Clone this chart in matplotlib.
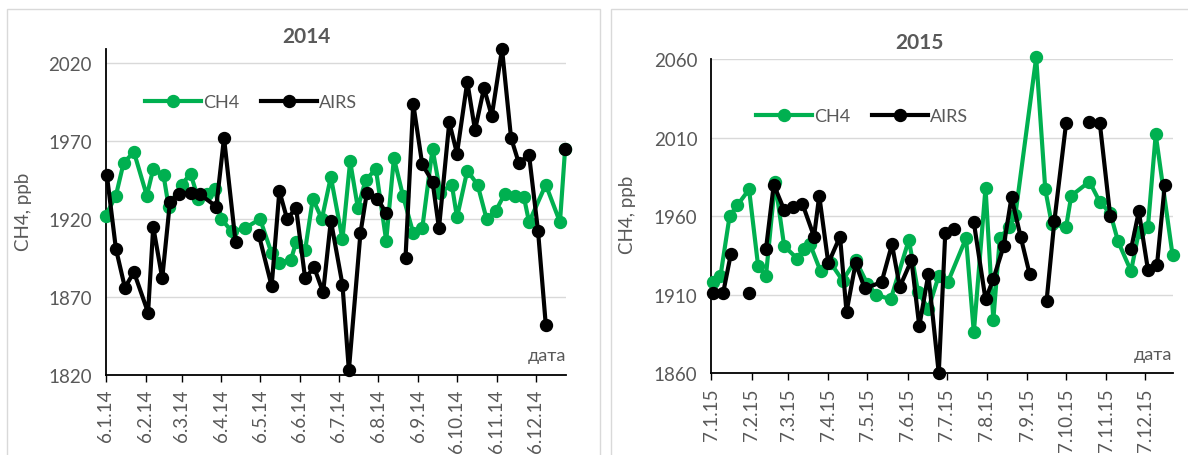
import numpy as np
import matplotlib
matplotlib.use("Agg")
import matplotlib.pyplot as plt
from matplotlib.patches import Rectangle

plt.rcParams['font.family'] = ['Lato', 'DejaVu Sans']

# --- 2014 ---
ch4_2014_dates = ['2014-01-06', '2014-01-14', '2014-01-20', '2014-01-28', '2014-02-07', '2014-02-12',
                  '2014-02-20', '2014-02-24', '2014-03-06', '2014-03-13', '2014-03-19', '2014-03-26',
                  '2014-04-01', '2014-04-06', '2014-04-14', '2014-04-24', '2014-05-06', '2014-05-15',
                  '2014-05-21', '2014-05-30', '2014-06-03', '2014-06-10', '2014-06-16', '2014-06-23',
                  '2014-06-30', '2014-07-09', '2014-07-15', '2014-07-21', '2014-07-27', '2014-08-04',
                  '2014-08-12', '2014-08-18', '2014-08-25', '2014-09-02', '2014-09-09', '2014-09-17',
                  '2014-09-23', '2014-10-02', '2014-10-06', '2014-10-14', '2014-10-22', '2014-10-29',
                  '2014-11-05', '2014-11-12', '2014-11-20', '2014-11-27', '2014-12-01', '2014-12-14',
                  '2014-12-25', '2014-12-29']
ch4_2014 = [1922, 1935, 1956, 1963, 1935, 1952, 1948, 1928, 1942, 1949, 1933, 1936,
            1939, 1920, 1912, 1914, 1920, 1898, 1892, 1894, 1905, 1900, 1933, 1920,
            1947, 1907, 1957, 1927, 1945, 1952, 1906, 1959, 1935, 1911, 1914, 1965,
            1937, 1942, 1921, 1951, 1942, 1920, 1925, 1936, 1935, 1934, 1918, 1942,
            1918, 1965]

airs_2014_dates = ['2014-01-07', '2014-01-14', '2014-01-21', '2014-01-28', '2014-02-08', '2014-02-12',
                   '2014-02-19', '2014-02-25', '2014-03-04', '2014-03-13', '2014-03-20', '2014-04-02',
                   '2014-04-08', '2014-04-17', '2014-04-26', '2014-05-05', '2014-05-15', '2014-05-21',
                   '2014-05-27', '2014-06-03', '2014-06-10', '2014-06-17', '2014-06-24', '2014-06-30',
                   '2014-07-09', '2014-07-14', '2014-07-23', '2014-07-28', '2014-08-05', '2014-08-12',
                   '2014-08-19', '2014-08-27', '2014-09-02', '2014-09-09', '2014-09-17', '2014-09-22',
                   '2014-09-30', '2014-10-06', '2014-10-14', '2014-10-20', '2014-10-27', '2014-11-02',
                   '2014-11-10', '2014-11-17', '2014-11-23', '2014-12-01', '2014-12-08', '2014-12-14',
                   '2014-12-21', '2014-12-29']
airs_2014 = [1948, 1901, 1876, 1886, 1860, 1915, 1882, 1931, 1936, 1937, 1936, 1928,
             1972, 1905, np.nan, 1910, 1877, 1938, 1920, 1927, 1882, 1889, 1873, 1919,
             1878, 1823, 1911, 1937, 1933, 1924, np.nan, 1895, 1994, 1955, 1944, 1914,
             1982, 1962, 2008, 1977, 2004, 1986, 2029, 1972, 1956, 1961, 1912, 1852,
             np.nan, 1965]

ticks_2014 = ['2014-%02d-06' % m for m in range(1, 13)]
ticklabels_2014 = ['6.%d.14' % m for m in range(1, 13)]

# --- 2015 ---
ch4_2015_dates = ['2015-01-08', '2015-01-14', '2015-01-21', '2015-01-27', '2015-02-05', '2015-02-12',
                  '2015-02-18', '2015-02-25', '2015-03-04', '2015-03-14', '2015-03-19', '2015-03-24',
                  '2015-04-01', '2015-04-09', '2015-04-18', '2015-04-28', '2015-05-07', '2015-05-14',
                  '2015-05-25', '2015-06-08', '2015-06-15', '2015-06-23', '2015-07-01', '2015-07-08',
                  '2015-07-22', '2015-07-28', '2015-08-06', '2015-08-12', '2015-08-17', '2015-08-24',
                  '2015-08-29', '2015-09-14', '2015-09-21', '2015-09-26', '2015-10-07', '2015-10-11',
                  '2015-10-25', '2015-11-02', '2015-11-10', '2015-11-16', '2015-11-26', '2015-12-02',
                  '2015-12-09', '2015-12-15', '2015-12-28']
ch4_2015 = [1918, 1922, 1960, 1967, 1977, 1928, 1922, 1982, 1941, 1933, 1939, 1942,
            1925, 1930, 1919, 1932, 1917, 1910, 1907, 1945, 1912, 1901, 1922, 1918,
            1946, 1886, 1978, 1894, 1946, 1953, 1961, 2061, 1977, 1955, 1953, 1973,
            1982, 1969, 1962, 1944, 1925, 1950, 1953, 2012, 1935]

airs_2015_dates = ['2015-01-08', '2015-01-16', '2015-01-22', '2015-01-29', '2015-02-05', '2015-02-12',
                   '2015-02-18', '2015-02-24', '2015-03-04', '2015-03-11', '2015-03-18', '2015-03-27',
                   '2015-03-31', '2015-04-07', '2015-04-16', '2015-04-21', '2015-04-28', '2015-05-05',
                   '2015-05-18', '2015-05-26', '2015-06-01', '2015-06-10', '2015-06-16', '2015-06-23',
                   '2015-07-01', '2015-07-06', '2015-07-13', '2015-07-21', '2015-07-28', '2015-08-06',
                   '2015-08-12', '2015-08-20', '2015-08-26', '2015-09-02', '2015-09-09', '2015-09-15',
                   '2015-09-22', '2015-09-28', '2015-10-07', '2015-10-16', '2015-10-25', '2015-11-02',
                   '2015-11-10', '2015-11-18', '2015-11-26', '2015-12-02', '2015-12-09', '2015-12-16',
                   '2015-12-22']
airs_2015 = [1911, 1911, 1936, np.nan, 1911, np.nan, 1939, 1980, 1964, 1966, 1968, 1947,
             1973, 1930, 1947, 1899, 1930, 1914, 1918, 1942, 1915, 1932, 1890, 1923,
             1860, 1949, 1952, np.nan, 1956, 1907, 1920, 1941, 1972, 1947, 1923, np.nan,
             1906, 1957, 2019, np.nan, 2020, 2019, 1960, np.nan, 1939, 1963, 1926, 1929,
             1980]

ticks_2015 = ['2015-%02d-07' % m for m in range(1, 13)]
ticklabels_2015 = ['7.%d.15' % m for m in range(1, 13)]

GREEN = '#00B050'
GREY = '#595959'
W, H = 1188, 456

fig = plt.figure(figsize=(W / 100, H / 100), dpi=100)

# рамки областей диаграмм
fig.add_artist(Rectangle((7 / W, -0.1), (600 - 7) / W, 1.1 - 10 / H, transform=fig.transFigure,
                         fill=False, edgecolor='#d9d9d9', lw=1))
fig.add_artist(Rectangle((611 / W, -0.1), 1.0, 1.1 - 10 / H, transform=fig.transFigure,
                         fill=False, edgecolor='#d9d9d9', lw=1))


def make_ax(x0, y0, x1, y1):
    return fig.add_axes([x0 / W, 1 - y1 / H, (x1 - x0) / W, (y1 - y0) / H])


def draw(ax, ch_d, ch_v, ai_d, ai_v, ticks, labels, ylim, xlim, yticks):
    ax.plot(np.array(ch_d, dtype='datetime64[D]'), ch_v, color=GREEN, lw=3.0, marker='o',
            ms=8.6, label='CH4', clip_on=False, zorder=3)
    ax.plot(np.array(ai_d, dtype='datetime64[D]'), ai_v, color='black', lw=3.0, marker='o',
            ms=8.6, label='AIRS', clip_on=False, zorder=4)
    ax.set_xlim(np.datetime64(xlim[0]), np.datetime64(xlim[1]))
    ax.set_ylim(*ylim)
    ax.set_yticks(yticks)
    ax.set_xticks(np.array(ticks, dtype='datetime64[D]'))
    ax.set_xticklabels(labels, rotation=90)
    ax.grid(axis='y', color='#d9d9d9', lw=1)
    ax.set_axisbelow(True)
    for s in ['top', 'right']:
        ax.spines[s].set_visible(False)
    for s in ['left', 'bottom']:
        ax.spines[s].set_color('black')
        ax.spines[s].set_linewidth(1.3)
    ax.tick_params(axis='y', length=0, pad=10, labelsize=13.5, labelcolor=GREY)
    ax.tick_params(axis='x', length=5, width=1, pad=5, labelsize=13.5, labelcolor=GREY)
    ax.text(1.0, 0.06, 'дата', transform=ax.transAxes, ha='right', va='center',
            fontsize=13, color=GREY)


ax1 = make_ax(105.6, 50, 566.4, 376)
draw(ax1, ch4_2014_dates, ch4_2014, airs_2014_dates, airs_2014, ticks_2014, ticklabels_2014,
     (1820, 2029), ('2014-01-06', '2014-12-30'), range(1820, 2021, 50))

ax2 = make_ax(711.4, 60, 1172.6, 374.3)
draw(ax2, ch4_2015_dates, ch4_2015, airs_2015_dates, airs_2015, ticks_2015, ticklabels_2015,
     (1860, 2060), ('2015-01-07', '2015-12-28'), range(1860, 2061, 50))

for ax, (lx, ly) in [(ax1, (136, 103)), (ax2, (747, 117))]:
    leg = ax.legend(loc='center left', bbox_to_anchor=(lx / W, 1 - ly / H),
                    bbox_transform=fig.transFigure, ncol=2, frameon=False, fontsize=13,
                    handlelength=3.1, handletextpad=0.1, columnspacing=1.2, borderpad=0)
    for t in leg.get_texts():
        t.set_color(GREY)

fig.text(306 / W, 1 - 37 / H, '2014', ha='center', va='center', fontsize=15,
         weight='bold', color=GREY)
fig.text(919 / W, 1 - 43 / H, '2015', ha='center', va='center', fontsize=15,
         weight='bold', color=GREY)
fig.text(24 / W, 1 - 212 / H, 'CH4, ppb', rotation=90, ha='center', va='center',
         fontsize=13.5, color=GREY)
fig.text(627 / W, 1 - 215 / H, 'CH4, ppb', rotation=90, ha='center', va='center',
         fontsize=13.5, color=GREY)

fig.savefig('out.png', dpi=100)
